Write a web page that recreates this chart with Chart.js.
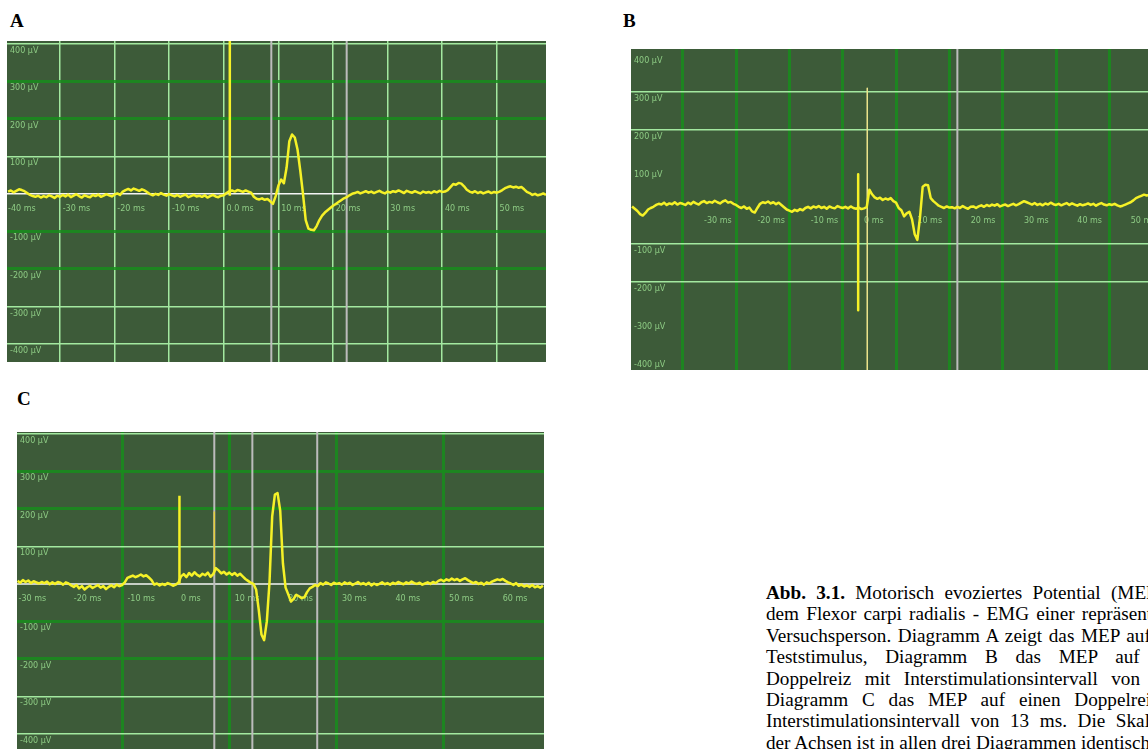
<!DOCTYPE html>
<html>
<head>
<meta charset="utf-8">
<script src="https://cdn.jsdelivr.net/npm/chart.js@4/dist/chart.umd.min.js"></script>
<style>
  html, body { margin: 0; padding: 0; background: #fff; overflow: hidden; }
  body { width: 1148px; height: 749px; position: relative; font-family: "Liberation Serif", "Times New Roman", serif; color: #000; }
  .panel { position: absolute; display: block; background: #3d5b39; }
  .tag { position: absolute; font-weight: bold; font-size: 19px; line-height: 19px; }
  #caption { position: absolute; left: 766px; top: 582px; width: 433px; font-size: 19.2px; line-height: 21.4px; }
  #caption div { text-align: justify; text-align-last: justify; }
  #caption div.last { text-align-last: left; }
</style>
</head>
<body>
<div class="tag" style="left:10px;top:11px">A</div>
<div class="tag" style="left:623px;top:11px">B</div>
<div class="tag" style="left:17px;top:389px">C</div>
<canvas id="chartA" class="panel" width="539" height="321" style="left:7px;top:41px"></canvas>
<canvas id="chartB" class="panel" width="569" height="321" style="left:631px;top:49px"></canvas>
<canvas id="chartC" class="panel" width="527" height="330" style="left:17px;top:432px"></canvas>
<div id="caption">
  <div><b>Abb. 3.1.</b> Motorisch evoziertes Potential (MEP) aus</div>
  <div>dem Flexor carpi radialis - EMG einer repräsentativen</div>
  <div>Versuchsperson. Diagramm A zeigt das MEP auf einen</div>
  <div>Teststimulus, Diagramm B das MEP auf einen</div>
  <div>Doppelreiz mit Interstimulationsintervall von 3 ms</div>
  <div>Diagramm C das MEP auf einen Doppelreiz mit</div>
  <div>Interstimulationsintervall von 13 ms. Die Skalierung</div>
  <div class="last">der Achsen ist in allen drei Diagrammen identisch.</div>
</div>
<script>
// sampling of the EMG traces (ms)
const sampleStep = 0.5;

// A: Teststimulus
const aStart = -39.5;
const aValues = [
  6, 9, 4, 8, 12, 10, 7, 2, -3, -6,
  -8, -5, -10, -6, -9, -4, -7, -11, -5, -8,
  -3, -7, -2, -9, -5, -1, -6, -10, -4, -7,
  -9, -3, -6, -2, -8, -5, -1, -4, -7, -2,
  1, -3, 6, 10, 13, 9, 14, 11, 8, 12,
  9, 4, -1, -4, 0, -3, 2, -2, -5, -1,
  -4, -7, -3, -8, -5, -2, -9, -6, -3, -7,
  -5, -8, -4, -10, -6, -3, -7, -9, -5, -4,
  2, 7, 9, 6, 10, 8, 5, 9, 6, 3,
  -8, -13, -15, -12, -16, -14, -20, -27, -6, 22,
  38, 28, 70, 140, 158, 150, 118, 62, 0, -70,
  -93, -96, -97, -86, -70, -58, -50, -44, -38, -32,
  -27, -22, -17, -12, -9, -4, 0, 2, 5, 1,
  4, 7, 3, 6, 2, 5, 8, 4, 1, 6,
  3, 7, 5, 9, 6, 2, 8, 5, 3, 7,
  4, 1, 6, 3, 5, 2, 7, 4, 8, 5,
  6, 10, 18, 26, 24, 29, 27, 20, 11, 6,
  3, 7, 2, 5, 1, 4, 6, 2, 5, 3,
  6, 10, 15, 18, 20, 17, 19, 16, 18, 12,
  5, 2, -3, 0, -4, -2, 1, -3
];
const aStims = [[1.1, -5, 700]];
const aCursors = [8.7, 22.5];
const aZeroEnd = 22.5;
const aXRange = [-39.7, 59];
const aYRange = [-448, 407];
const aGridX = [-30, -20, -10, 0, 10, 20, 30, 40, 50];
const aPaleX = [-30, -20, -10, 0, 10, 20, 30, 40, 50];
const aPaleY = [400, 100, -300, -400];
const aDarkY = [300, 200, -100, -200];
const aLabelAt = [-39.5, -29.5, -19.5, -9.5, 0.5, 10.5, 20.5, 30.5, 40.5, 50.5];
const aLabels = ['-40 ms', '-30 ms', '-20 ms', '-10 ms', '0.0 ms', '10 ms', '20 ms', '30 ms', '40 ms', '50 ms'];

// B: Doppelreiz, ISI 3 ms
const bStart = -39.5;
const bValues = [
  -2, -8, -14, -22, -26, -19, -10, -6, -3, 2,
  5, 3, 8, 2, 6, 4, 9, 3, 7, 5,
  2, 8, 4, 10, 6, 3, 9, 12, 7, 10,
  8, 13, 9, 6, 11, 14, 8, 10, 5, 2,
  -3, -6, -2, -8, -5, -15, -18, -6, 5, 9,
  7, 11, 6, 9, 4, 8, 2, -4, -10, -13,
  -16, -11, -14, -9, -12, -6, -3, -7, -2, -5,
  -1, -6, -3, -8, -2, -5, -7, -1, -4, -6,
  -3, -7, -2, -6, -8, -5, -9, -7, -4, 42,
  30, 22, 18, 21, 15, 19, 16, 20, 12, 8,
  -6, -12, -28, -20, -16, -36, -75, -90, -30, 50,
  55, 54, 20, 12, 6, 0, -3, -6, -2, -5,
  -4, -7, -3, -6, -1, -5, -8, -3, -2, -6,
  -2, 1, -3, 2, -1, 3, 0, 4, -2, 1,
  3, -1, 2, 5, 1, 4, 8, 12, 9, 6,
  3, 7, 2, 5, 1, 6, 3, 8, 4, 2,
  5, 1, 4, 7, 2, 6, 3, 0, 4, 1,
  3, 6, 2, 5, 0, 4, 7, 3, 1, 4,
  2, 5, 1, -2, 0, 3, 6, 9, 14, 20,
  23, 26, 29, 27, 28, 24
];
const bStims = [[2.9, 83, -275]];
const bCursors = [21.5];
const bMarkers = [[4.6, 309]];
const bXRange = [-39.7, 67];
const bYRange = [-432, 412];
const bGridX = [-30, -20, -10, 0, 10, 20, 30, 40, 50, 60];
const bDarkX = [-30, -20, -10, 0, 10, 20, 30, 40, 50, 60];
const bPaleY = [300, 200, -100, -200];
const bLabelAt = [-26, -16, -6, 4, 14, 24, 34, 44, 54];
const bLabels = ['-30 ms', '-20 ms', '-10 ms', '0 ms', '10 ms', '20 ms', '30 ms', '40 ms', '50 ms'];

// C: Doppelreiz, ISI 13 ms
const cStart = -29.5;
const cValues = [
  8, 3, 10, 5, 9, 2, 7, 4, 1, 5,
  2, 6, -1, 4, 0, 5, 3, -2, 4, 1,
  -4, -8, -3, -12, -6, -15, -9, -5, -11, -7,
  -3, -10, -6, -14, -8, -4, -9, -2, -6, -3,
  4, 16, 19, 22, 18, 21, 25, 20, 23, 17,
  10, -2, 1, -4, 0, -3, 2, -1, -5, -2,
  3, 20, 26, 18, 29, 22, 31, 24, 20, 27,
  23, 30, 19, 26, 42, 36, 28, 32, 25, 30,
  24, 29, 22, 27, 20, 13, 8, 3, 0, -15,
  -70, -135, -150, -100, 5, 180, 238, 242, 195, 55,
  -10, -28, -47, -40, -29, -33, -38, -36, -22, -12,
  -8, -3, -6, 2, -2, 4, 1, -3, 3, 0,
  2, -2, 4, 0, 3, -3, 1, 5, -1, 2,
  -2, 3, -4, 1, -3, 0, 4, -1, 2, -2,
  3, 0, 5, 2, -1, 4, 1, 6, 2, 0,
  3, -2, 1, 4, 0, 5, 2, 8, 11, 7,
  12, 9, 14, 10, 13, 8, 12, 15, 10, 6,
  2, 5, 0, 3, -2, 4, 1, 6, 9, 12,
  10, 13, 8, 4, 1, -3, 2, -5, -2, -7,
  -4, -8, -3, -9, -6, -10, -5
];
const cStims = [[0.7, 0, 235], [7.2, 30, 193]];
const cCursors = [7.2, 14.3, 26.4];
const cXRange = [-29.6, 68.7];
const cYRange = [-475, 405];
const cGridX = [-10, 10, 30, 50];
const cDarkX = [-10, 10, 30, 50];
const cPaleY = [400, 100, -300, -400];
const cDarkY = [300, 200, -100, -200];
const cLabelAt = [-29.3, -19, -9, 1, 11, 21, 31, 41, 51, 61];
const cLabels = ['-30 ms', '-20 ms', '-10 ms', '0 ms', '10 ms', '20 ms', '30 ms', '40 ms', '50 ms', '60 ms'];

// y levels shared by all three panels
const yLevels = [400, 300, 200, 100, -100, -200, -300, -400];
const yLabels = ['400 µV', '300 µV', '200 µV', '100 µV', '-100 µV', '-200 µV', '-300 µV', '-400 µV'];

const pale = '#a3e9a0';
const dark = 'rgba(24,140,28,0.85)';
const labelColor = 'rgba(150,215,140,0.9)';
const traceColor = '#f5f127';

const noPad = s => { s.paddingTop = 0; s.paddingBottom = 0; s.paddingLeft = 0; s.paddingRight = 0; };

function gridStyle(paleList, darkList) {
  return {
    drawTicks: false,
    color: ctx => paleList.includes(ctx.tick.value) ? pale : (darkList.includes(ctx.tick.value) ? dark : 'transparent'),
    lineWidth: ctx => paleList.includes(ctx.tick.value) ? 1.5 : 3
  };
}

function drawPanel(id, p) {
  const trace = p.values.map((v, i) => ({ x: p.start + i * sampleStep, y: v }));
  const sets = [{ data: trace, borderColor: traceColor, borderWidth: 2.5, order: 0 }];
  p.stims.forEach((s, i) => sets.push({
    data: [{ x: s[0], y: s[1] }, { x: s[0], y: s[2] }],
    borderColor: i === 0 ? traceColor : '#e6cf3c', borderWidth: i === 0 ? 2.5 : 1.5, order: 1
  }));
  (p.markers || []).forEach(m => sets.push({
    data: [{ x: m[0], y: m[1] }, { x: m[0], y: p.yRange[0] }],
    borderColor: '#ece48c', borderWidth: 1.5, order: 1
  }));
  p.cursors.forEach(c => sets.push({
    data: [{ x: c, y: p.yRange[0] }, { x: c, y: p.yRange[1] }],
    borderColor: '#bcbcbc', borderWidth: 2, order: 2
  }));
  if (p.zeroEnd !== null) {
    sets.push({ data: [{ x: p.xRange[0], y: 0 }, { x: p.zeroEnd, y: 0 }], borderColor: '#f4f4f4', borderWidth: 1.5, order: 2 });
  }
  sets.forEach(d => { d.xAxisID = 'x'; d.yAxisID = 'y'; d.pointRadius = 0; d.fill = false; });

  new Chart(document.getElementById(id), {
    type: 'line',
    data: { datasets: sets },
    options: {
      responsive: false,
      animation: false,
      devicePixelRatio: 1,
      layout: { padding: 0 },
      plugins: { legend: { display: false }, tooltip: { enabled: false } },
      elements: { line: { tension: 0, borderJoinStyle: 'round' } },
      scales: {
        x: {
          type: 'linear', min: p.xRange[0], max: p.xRange[1],
          afterBuildTicks: s => { s.ticks = p.gridX.map(v => ({ value: v })); },
          afterFit: s => { noPad(s); s.height = 0; },
          grid: gridStyle(p.paleX || [], p.darkX || []),
          border: { display: false },
          ticks: { display: false }
        },
        xl: {
          axis: 'x', type: 'linear', position: { y: 0 },
          min: p.xRange[0], max: p.xRange[1],
          afterBuildTicks: s => { s.ticks = p.labelAt.map(v => ({ value: v })); },
          afterFit: noPad,
          grid: { display: false },
          border: { display: false },
          ticks: {
            align: 'start', autoSkip: false, maxRotation: 0, padding: 2,
            color: labelColor, font: { family: 'DejaVu Sans', size: 8 },
            callback: (v, i) => p.labels[i]
          }
        },
        y: {
          type: 'linear', min: p.yRange[0], max: p.yRange[1],
          afterBuildTicks: s => { s.ticks = yLevels.map(v => ({ value: v })); },
          afterFit: s => { noPad(s); s.width = 0; },
          grid: gridStyle(p.paleY || [], p.darkY || []),
          border: { display: false },
          ticks: {
            mirror: true, padding: 3, labelOffset: 7,
            color: labelColor, font: { family: 'DejaVu Sans', size: 8 },
            callback: (v, i) => yLabels[i]
          }
        }
      }
    }
  });
}

drawPanel('chartA', {
  start: aStart, values: aValues, stims: aStims, cursors: aCursors, zeroEnd: aZeroEnd,
  xRange: aXRange, yRange: aYRange, gridX: aGridX, paleX: aPaleX,
  paleY: aPaleY, darkY: aDarkY, labelAt: aLabelAt, labels: aLabels
});
drawPanel('chartB', {
  start: bStart, values: bValues, stims: bStims, cursors: bCursors, markers: bMarkers, zeroEnd: null,
  xRange: bXRange, yRange: bYRange, gridX: bGridX, darkX: bDarkX,
  paleY: bPaleY, labelAt: bLabelAt, labels: bLabels
});
drawPanel('chartC', {
  start: cStart, values: cValues, stims: cStims, cursors: cCursors, zeroEnd: cXRange[1],
  xRange: cXRange, yRange: cYRange, gridX: cGridX, darkX: cDarkX,
  paleY: cPaleY, darkY: cDarkY, labelAt: cLabelAt, labels: cLabels
});
</script>
</body>
</html>
